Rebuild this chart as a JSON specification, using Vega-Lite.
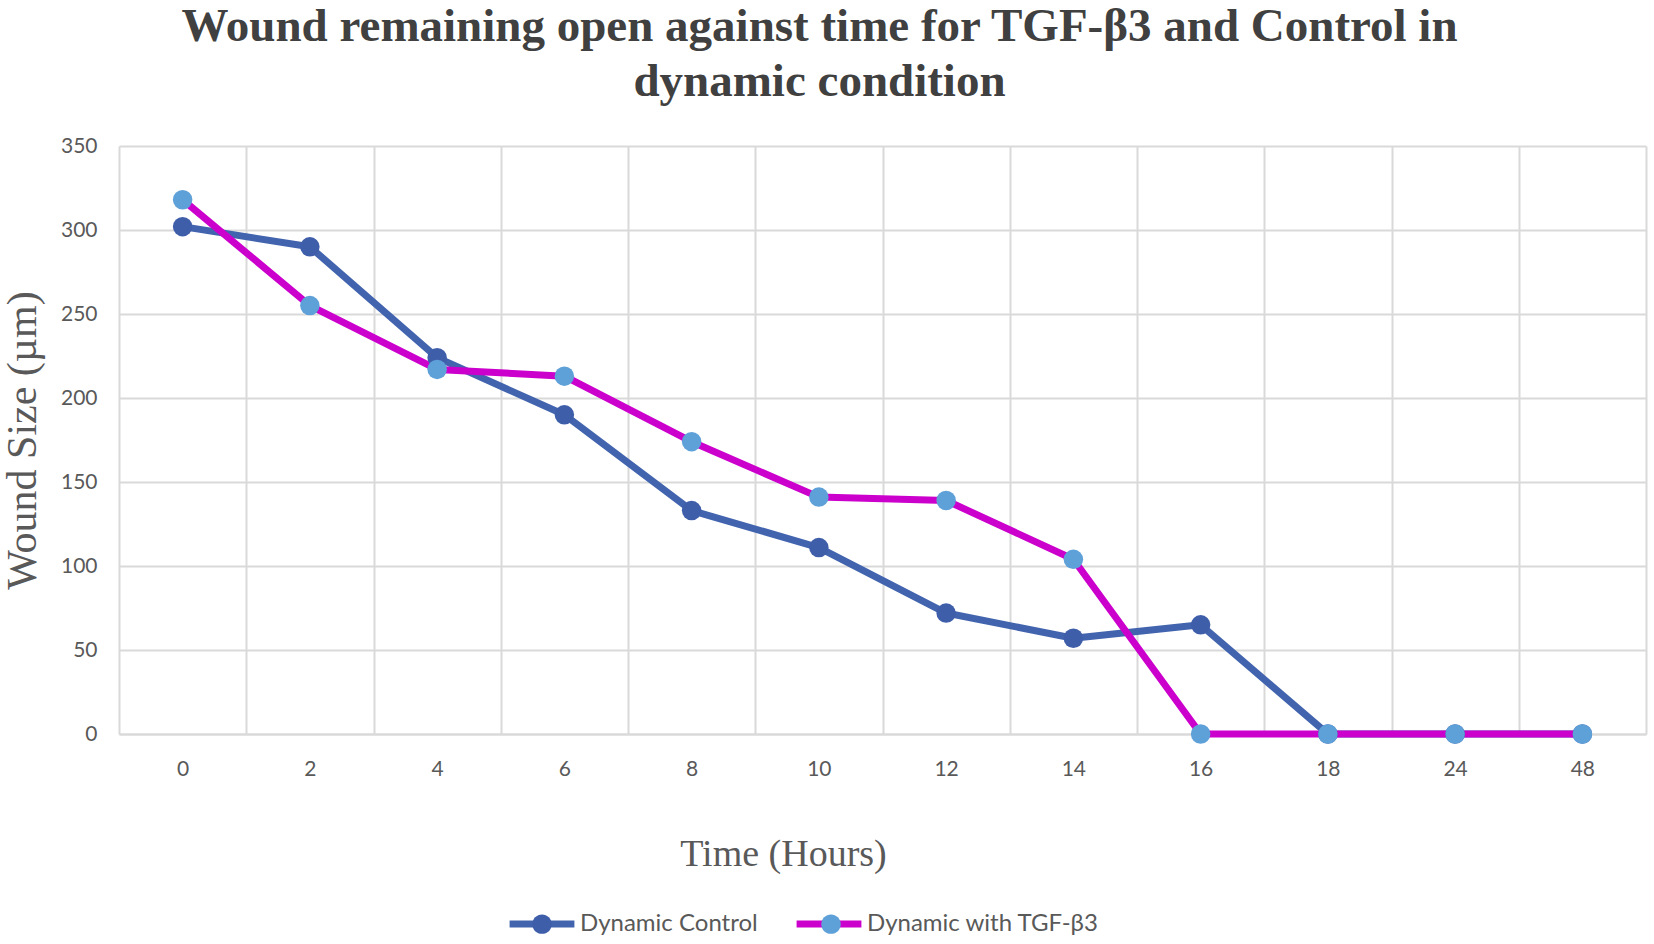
{
  "$schema": "https://vega.github.io/schema/vega-lite/v6.json",
  "autosize": {"type": "none"},
  "width": 1527,
  "height": 588,
  "padding": {"left": 119, "top": 146, "right": 8, "bottom": 210},
  "background": "white",
  "title": {
    "text": ["Wound remaining open against time for TGF-β3 and Control in", "dynamic condition"],
    "font": "Liberation Serif",
    "fontSize": 47,
    "fontWeight": "bold",
    "color": "#404040",
    "anchor": "middle",
    "dx": -63,
    "lineHeight": 55,
    "offset": 29
  },
  "data": {
    "values": [
      {"time": "0", "series": "Dynamic Control", "size": 302},
      {"time": "2", "series": "Dynamic Control", "size": 290},
      {"time": "4", "series": "Dynamic Control", "size": 224},
      {"time": "6", "series": "Dynamic Control", "size": 190},
      {"time": "8", "series": "Dynamic Control", "size": 133},
      {"time": "10", "series": "Dynamic Control", "size": 111},
      {"time": "12", "series": "Dynamic Control", "size": 72},
      {"time": "14", "series": "Dynamic Control", "size": 57},
      {"time": "16", "series": "Dynamic Control", "size": 65},
      {"time": "18", "series": "Dynamic Control", "size": 0},
      {"time": "24", "series": "Dynamic Control", "size": 0},
      {"time": "48", "series": "Dynamic Control", "size": 0},
      {"time": "0", "series": "Dynamic with TGF-β3", "size": 318},
      {"time": "2", "series": "Dynamic with TGF-β3", "size": 255},
      {"time": "4", "series": "Dynamic with TGF-β3", "size": 217},
      {"time": "6", "series": "Dynamic with TGF-β3", "size": 213},
      {"time": "8", "series": "Dynamic with TGF-β3", "size": 174},
      {"time": "10", "series": "Dynamic with TGF-β3", "size": 141},
      {"time": "12", "series": "Dynamic with TGF-β3", "size": 139},
      {"time": "14", "series": "Dynamic with TGF-β3", "size": 104},
      {"time": "16", "series": "Dynamic with TGF-β3", "size": 0},
      {"time": "18", "series": "Dynamic with TGF-β3", "size": 0},
      {"time": "24", "series": "Dynamic with TGF-β3", "size": 0},
      {"time": "48", "series": "Dynamic with TGF-β3", "size": 0}
    ]
  },
  "encoding": {
    "x": {
      "field": "time",
      "type": "ordinal",
      "sort": ["0", "2", "4", "6", "8", "10", "12", "14", "16", "18", "24", "48"],
      "scale": {"type": "band", "paddingInner": 0, "paddingOuter": 0},
      "axis": {
        "title": "Time (Hours)",
        "titleFont": "Liberation Serif",
        "titleFontSize": 38,
        "titleFontWeight": "normal",
        "titleColor": "#595959",
        "titleX": 664,
        "titleY": 131,
        "titleBaseline": "alphabetic",
        "titleAlign": "center",
        "labelAngle": 0,
        "labelFont": "Lato",
        "labelFontSize": 21,
        "labelColor": "#595959",
        "labelPadding": 24,
        "ticks": false,
        "grid": true,
        "tickBand": "extent",
        "gridColor": "#d9d9d9",
        "gridWidth": 2,
        "domainColor": "#d9d9d9",
        "domainWidth": 2
      }
    },
    "y": {
      "field": "size",
      "type": "quantitative",
      "scale": {"domain": [0, 350], "nice": false},
      "axis": {
        "title": "Wound Size (µm)",
        "titleFont": "Liberation Serif",
        "titleFontSize": 42,
        "titleFontWeight": "normal",
        "titleColor": "#595959",
        "titlePadding": 16,
        "values": [0, 50, 100, 150, 200, 250, 300, 350],
        "labelFont": "Lato",
        "labelFontSize": 21,
        "labelColor": "#595959",
        "labelPadding": 22,
        "ticks": false,
        "domain": false,
        "grid": true,
        "gridColor": "#d9d9d9",
        "gridWidth": 2
      }
    }
  },
  "layer": [
    {
      "mark": {"type": "line", "strokeWidth": 7, "strokeCap": "round", "strokeJoin": "round"},
      "encoding": {
        "stroke": {
          "field": "series",
          "type": "nominal",
          "scale": {"domain": ["Dynamic Control", "Dynamic with TGF-β3"], "range": ["#4264ae", "#cc00cc"]},
          "legend": {
            "orient": "none",
            "legendX": 387,
            "legendY": 742,
            "direction": "horizontal",
            "title": null,
            "symbolType": "stroke",
            "symbolSize": 4200,
            "symbolStrokeWidth": 7,
            "labelFont": "Lato",
            "labelFontSize": 24,
            "labelColor": "#595959",
            "labelOffset": 2,
            "labelLimit": 0,
            "columnPadding": 24
          }
        }
      }
    },
    {
      "mark": {"type": "point", "filled": true, "size": 380, "opacity": 1, "strokeWidth": 0},
      "encoding": {
        "fill": {
          "field": "series",
          "type": "nominal",
          "scale": {"range": ["#3f5eaa", "#5ea0d8"]},
          "legend": {
            "orient": "none",
            "legendX": 387,
            "legendY": 742,
            "direction": "horizontal",
            "title": null,
            "symbolType": "M-0.3,0A0.3,0.3 0 1,0 0.3,0A0.3,0.3 0 1,0 -0.3,0Z",
            "symbolSize": 4200,
            "symbolStrokeWidth": 7,
            "symbolStrokeColor": "transparent",
            "symbolOpacity": 1,
            "labelExpr": "''",
            "labelFontSize": 24,
            "labelOffset": 2,
            "labelLimit": 0,
            "columnPadding": 215
          }
        }
      }
    }
  ],
  "config": {
    "view": {"stroke": null}
  }
}
